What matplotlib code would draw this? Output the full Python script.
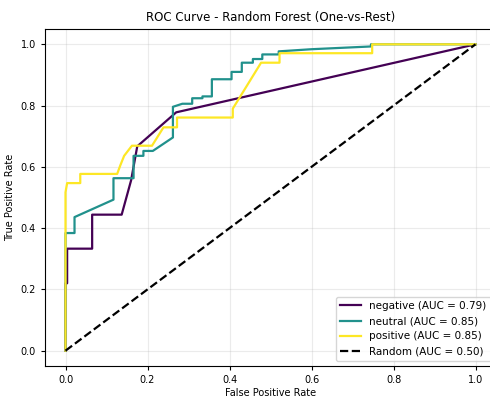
import matplotlib
matplotlib.use('Agg')
import matplotlib.pyplot as plt
import numpy as np

# ROC points (false positive rate, true positive rate)
neg_fpr = [0.0, 0.0, 0.004, 0.004, 0.065, 0.065, 0.137, 0.16, 0.175, 0.27, 1.0]
neg_tpr = [0.0, 0.22, 0.22, 0.333, 0.333, 0.444, 0.444, 0.556, 0.667, 0.778, 1.0]

neu_fpr = [0.0, 0.0, 0.0, 0.022, 0.022, 0.117, 0.117, 0.166, 0.166, 0.19, 0.19, 0.213,
           0.262, 0.262, 0.285, 0.309, 0.309, 0.334, 0.334, 0.357, 0.357, 0.405, 0.405,
           0.43, 0.43, 0.457, 0.457, 0.48, 0.48, 0.52, 0.52, 0.6, 0.745, 0.745, 1.0]
neu_tpr = [0.0, 0.333, 0.384, 0.384, 0.436, 0.493, 0.563, 0.563, 0.636, 0.636, 0.652, 0.652,
           0.696, 0.796, 0.806, 0.806, 0.824, 0.824, 0.83, 0.83, 0.886, 0.886, 0.91,
           0.91, 0.94, 0.94, 0.952, 0.952, 0.967, 0.967, 0.977, 0.984, 0.993, 1.0, 1.0]

pos_fpr = [0.0, 0.0, 0.004, 0.004, 0.036, 0.036, 0.126, 0.134, 0.143, 0.162, 0.211, 0.239,
           0.272, 0.272, 0.408, 0.408, 0.477, 0.522, 0.522, 0.748, 0.748, 1.0]
pos_tpr = [0.0, 0.517, 0.547, 0.547, 0.547, 0.577, 0.577, 0.606, 0.636, 0.669, 0.669, 0.729,
           0.729, 0.761, 0.761, 0.79, 0.94, 0.94, 0.971, 0.971, 1.0, 1.0]

classes = ['negative', 'neutral', 'positive']
aucs = [0.79, 0.85, 0.85]
colors = ['#440154', '#21918c', '#fde725']
curves = [(neg_fpr, neg_tpr), (neu_fpr, neu_tpr), (pos_fpr, pos_tpr)]


def main():
    fig = plt.figure(figsize=(4.9, 3.97), dpi=100)
    ax = fig.add_axes([45 / 490, 31 / 397, 451 / 490, 337 / 397])

    for (fpr, tpr), name, auc, color in zip(curves, classes, aucs, colors):
        ax.plot(fpr, tpr, color=color, lw=1.6, label=f'{name} (AUC = {auc:.2f})')
    ax.plot([0, 1], [0, 1], 'k--', lw=1.6, label='Random (AUC = 0.50)')

    ax.set_title('ROC Curve - Random Forest (One-vs-Rest)', fontsize=8.5)
    ax.set_xlabel('False Positive Rate', fontsize=7, labelpad=2)
    ax.set_ylabel('True Positive Rate', fontsize=7, labelpad=4)
    ax.tick_params(labelsize=7, length=3)
    ax.grid(True, alpha=0.25)
    ax.legend(loc='lower right', fontsize=7.5)

    fig.savefig('out.png', dpi=100)


if __name__ == '__main__':
    main()
